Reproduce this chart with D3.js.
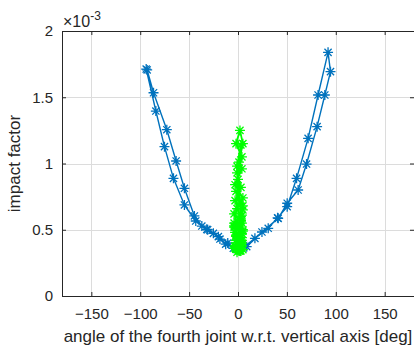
<!DOCTYPE html>
<html>
<head>
<meta charset="utf-8">
<script src="https://cdn.jsdelivr.net/npm/d3@7"></script>
<style>
  html, body { margin: 0; padding: 0; background: #fff; }
  svg { display: block; }
</style>
</head>
<body>
<svg id="chart" width="414" height="349"></svg>
<script>
"use strict";

/* ── Data ─────────────────────────────────────────────────────────── */

/* Blue trajectory: down the left, up the right, and back again. */
const blueAngle = [
  -93.9, -84.0, -75.2, -66.0, -54.8, -43.2, -31.9, -20.1, -10.5, -4.8, 2.0,
  17.3, 30.9, 40.5, 50.3, 59.9, 71.7, 81.9, 92.1,
  94.6, 88.8, 80.9, 70.1, 61.5, 50.3, 41.1, 24.5, 8.9, -2.0,
  -12.6, -18.5, -25.2, -31.0, -37.0, -44.6, -54.8, -63.3, -72.8, -86.4, -92.9
];
const blueImpact = [
  1.713, 1.396, 1.127, 0.888, 0.687, 0.566, 0.503, 0.448, 0.400, 0.360, 0.347,
  0.435, 0.511, 0.590, 0.674, 0.888, 1.190, 1.517, 1.839,
  1.693, 1.517, 1.278, 0.996, 0.800, 0.700, 0.586, 0.483, 0.372, 0.355,
  0.391, 0.430, 0.473, 0.500, 0.528, 0.604, 0.813, 1.019, 1.255, 1.534, 1.706
];

/* Green trajectory: narrow band around 0 deg, several passes. */
const greenAngle = [
  1, -3, 4, -2, 5, -4, 3, -1, 5, -3, 4, 1, 5, 2,
  -2, 4, -1, 3, -3, 5, 1, -4, 4, -1, 3, -2, 2,
  4, -3, 3, 5, -2, 2, 4, -4, 0, 3, -2, 5, -1,
  -3, 4, 1, -4, 3, 5, -2, 2, 4, -3, 0, 3,
  -2, 4, -1, 3, 0, -3, 2
];
const greenImpact = [
  0.34, 0.38, 0.42, 0.46, 0.50, 0.55, 0.60, 0.66, 0.74, 0.84, 0.96, 1.01, 1.15, 1.25,
  1.15, 1.05, 0.93, 0.82, 0.72, 0.65, 0.58, 0.52, 0.47, 0.43, 0.39, 0.36, 0.34,
  0.40, 0.48, 0.57, 0.68, 0.79, 0.70, 0.61, 0.53, 0.46, 0.41, 0.37, 0.35, 0.33,
  0.37, 0.44, 0.51, 0.62, 0.56, 0.49, 0.45, 0.40, 0.38, 0.36, 0.35, 0.34,
  0.42, 0.55, 0.98, 1.14, 0.88, 0.52, 0.36
];

const xTicks = [-150, -100, -50, 0, 50, 100, 150];
const yTicks = [0, 0.5, 1, 1.5, 2];

/* ── Layout ───────────────────────────────────────────────────────── */

(function () {

  const FONT = "'Liberation Sans', Arial, Helvetica, sans-serif";
  const AX   = "#262626";
  const left = 62, right = 414, top = 31, bottom = 296;

  const x = d3.scaleLinear().domain([-180, 180]).range([left, right]);
  const y = d3.scaleLinear().domain([0, 2]).range([bottom, top]);

  const svg = d3.select("#chart");

  /* Grid */
  const grid = svg.append("g").attr("stroke", "#dcdcdc").attr("stroke-width", 1);
  xTicks.forEach(function (t) {
    grid.append("line")
      .attr("x1", Math.round(x(t)) + 0.5).attr("x2", Math.round(x(t)) + 0.5)
      .attr("y1", top).attr("y2", bottom);
  });
  yTicks.slice(1, -1).forEach(function (t) {
    grid.append("line")
      .attr("x1", left).attr("x2", right)
      .attr("y1", Math.round(y(t)) + 0.5).attr("y2", Math.round(y(t)) + 0.5);
  });

  /* Axes: bottom/left with labels, top/right mirrored ticks (box on) */
  function styleAxis(g) {
    g.select(".domain").attr("stroke", AX);
    g.selectAll(".tick line").attr("stroke", AX);
    g.selectAll(".tick text")
      .attr("fill", AX)
      .attr("font-family", FONT)
      .attr("font-size", 15);
  }

  svg.append("g")
    .attr("transform", "translate(0," + bottom + ")")
    .call(d3.axisBottom(x).tickValues(xTicks).tickSizeInner(-4).tickSizeOuter(0)
      .tickPadding(12).tickFormat(d3.format("d")))
    .call(styleAxis);

  svg.append("g")
    .attr("transform", "translate(0," + top + ")")
    .call(d3.axisTop(x).tickValues(xTicks).tickSizeInner(-4).tickSizeOuter(0)
      .tickFormat(""))
    .call(styleAxis);

  svg.append("g")
    .attr("transform", "translate(" + left + ",0)")
    .call(d3.axisLeft(y).tickValues(yTicks).tickSizeInner(-4).tickSizeOuter(0)
      .tickPadding(9).tickFormat(function (d) { return String(d); }))
    .call(styleAxis);

  svg.append("g")
    .attr("transform", "translate(" + right + ",0)")
    .call(d3.axisRight(y).tickValues(yTicks).tickSizeInner(-4).tickSizeOuter(0)
      .tickFormat(""))
    .call(styleAxis);

  /* Exponent label above the y axis */
  const expo = svg.append("text")
    .attr("x", left + 1).attr("y", 27)
    .attr("font-family", FONT).attr("font-size", 16).attr("fill", AX);
  expo.append("tspan").text("\u00D710");
  expo.append("tspan").attr("font-size", 12).attr("dy", -7).text("-3");

  /* ── Series ─────────────────────────────────────────────────────── */

  function drawSeries(angles, impacts, color, lw) {
    const pts = angles.map(function (a, i) { return [x(a), y(impacts[i])]; });
    const g = svg.append("g");

    g.append("path")
      .attr("d", d3.line()(pts))
      .attr("fill", "none")
      .attr("stroke", color)
      .attr("stroke-width", lw)
      .attr("stroke-linejoin", "round");

    /* Asterisk marker: plus + cross */
    const r = 5, d = r * 0.72;
    g.selectAll("path.mk").data(pts).enter()
      .append("path")
      .attr("class", "mk")
      .attr("transform", function (p) { return "translate(" + p[0] + "," + p[1] + ")"; })
      .attr("d", "M" + (-r) + ",0H" + r + "M0," + (-r) + "V" + r +
                 "M" + (-d) + "," + (-d) + "L" + d + "," + d +
                 "M" + (-d) + "," + d + "L" + d + "," + (-d))
      .attr("stroke", color)
      .attr("stroke-width", 1.3)
      .attr("fill", "none");
  }

  drawSeries(blueAngle, blueImpact, "#0072BD", 1.4);
  drawSeries(greenAngle, greenImpact, "#00FF00", 1.8);

  /* Axis titles */
  svg.append("text")
    .attr("x", (left + right) / 2).attr("y", 342)
    .attr("text-anchor", "middle")
    .attr("font-family", FONT).attr("font-size", 17).attr("fill", AX)
    .text("angle of the fourth joint w.r.t. vertical axis [deg]");

  svg.append("text")
    .attr("transform", "translate(20," + ((top + bottom) / 2) + ") rotate(-90)")
    .attr("text-anchor", "middle")
    .attr("font-family", FONT).attr("font-size", 17).attr("fill", AX)
    .text("impact factor");

}());
</script>
</body>
</html>
